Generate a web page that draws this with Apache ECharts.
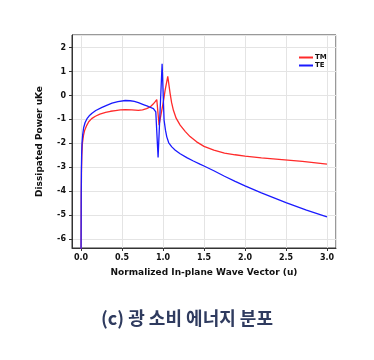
<!DOCTYPE html>
<html><head><meta charset="utf-8">
<script src="https://cdn.jsdelivr.net/npm/echarts@6/dist/echarts.min.js"></script>
<style>html,body{margin:0;padding:0;background:#fff}#c{width:374px;height:360px}</style>
</head><body><div id="c"></div>
<script>
const seriesNames = ['TM', 'TE'];
const tmU = [0,0.003,0.006,0.01,0.017,0.03,0.045,0.07,0.094,0.13,0.175,0.23,0.30,0.36,0.42,0.48,0.54,0.62,0.70,0.75,0.80,0.843,0.88,0.905,0.924,0.952,0.985,1.005,1.026,1.058,1.087,1.105,1.127,1.16,1.209,1.27,1.33,1.41,1.5,1.62,1.75,1.88,2.0,2.2,2.45,2.7,3.0];
const tmV = [-7,-4.2,-3.1,-2.5,-2.0,-1.67,-1.45,-1.25,-1.1,-0.97,-0.87,-0.78,-0.71,-0.66,-0.63,-0.6,-0.59,-0.6,-0.62,-0.6,-0.55,-0.48,-0.36,-0.26,-0.17,-1.24,-0.62,-0.25,0.22,0.8,0.08,-0.3,-0.62,-0.95,-1.24,-1.5,-1.72,-1.94,-2.13,-2.29,-2.41,-2.48,-2.54,-2.61,-2.68,-2.76,-2.87];
const teU = [0,0.002,0.005,0.008,0.012,0.02,0.032,0.05,0.073,0.1,0.134,0.18,0.256,0.32,0.378,0.45,0.54,0.6,0.65,0.70,0.76,0.82,0.883,0.912,0.94,0.989,1.013,1.03,1.046,1.07,1.107,1.15,1.209,1.29,1.37,1.45,1.5,1.62,1.75,1.88,2.0,2.2,2.5,2.75,3.0];
const teV = [-7,-4.2,-3.0,-2.4,-2.0,-1.65,-1.35,-1.13,-0.97,-0.85,-0.74,-0.63,-0.5,-0.4,-0.32,-0.26,-0.21,-0.22,-0.25,-0.3,-0.38,-0.46,-0.55,-0.69,-2.59,1.33,-1.03,-1.45,-1.73,-1.98,-2.15,-2.29,-2.44,-2.6,-2.74,-2.87,-2.95,-3.15,-3.38,-3.59,-3.78,-4.07,-4.48,-4.8,-5.08];
const xName = 'Normalized In-plane Wave Vector (u)';
const yName = 'Dissipated Power uKe';
const caption = '(c) 광 소비 에너지 분포';

const zip = (a, b) => a.map((v, i) => [v, b[i]]);
const font = 'DejaVu Sans';
const chart = echarts.init(document.getElementById('c'));
chart.setOption({
  animation: false,
  title: {
    text: caption, left: 'center', top: 304,
    textStyle: { fontFamily: 'Noto Sans CJK KR', fontWeight: 'bold', fontSize: 18, color: '#2f3b5f' }
  },
  legend: {
    data: seriesNames, orient: 'vertical', left: 294, top: 49, itemGap: 1,
    itemWidth: 14, itemHeight: 2, icon: 'rect',
    textStyle: { fontFamily: font, fontWeight: 'bold', fontSize: 7, color: '#111', padding: [0, 0, 0, -3] }
  },
  grid: { left: 72, right: 38, top: 35, bottom: 112, show: true, borderColor: '#333', borderWidth: 1, containLabel: false },
  xAxis: {
    type: 'value', min: -0.11, max: 3.11, splitNumber: 6,
    name: xName, nameLocation: 'middle', nameGap: 20,
    nameTextStyle: { fontFamily: font, fontWeight: 'bold', fontSize: 9, color: '#111' },
    axisLine: { show: true, onZero: false, lineStyle: { color: '#333' } },
    axisTick: { show: true, length: 3, lineStyle: { color: '#333' } },
    axisLabel: { showMinLabel: false, showMaxLabel: false, fontFamily: font, fontWeight: 'bold', fontSize: 8, color: '#111', margin: 6, formatter: v => v.toFixed(1) },
    splitLine: { show: true, lineStyle: { color: '#e4e4e4' } }
  },
  yAxis: {
    type: 'value', min: -6.38, max: 2.53, splitNumber: 8,
    name: yName, nameLocation: 'middle', nameGap: 28,
    nameTextStyle: { fontFamily: font, fontWeight: 'bold', fontSize: 9, color: '#111' },
    axisLine: { show: true, onZero: false, lineStyle: { color: '#333' } },
    axisTick: { show: true, length: 3, lineStyle: { color: '#333' } },
    axisLabel: { showMinLabel: false, showMaxLabel: false, fontFamily: font, fontWeight: 'bold', fontSize: 8, color: '#111', margin: 6 },
    splitLine: { show: true, lineStyle: { color: '#e4e4e4' } }
  },
  series: [
    { name: seriesNames[0], type: 'line', data: zip(tmU, tmV), showSymbol: false, clip: true, lineStyle: { color: '#ff2a2a', width: 1.3 }, itemStyle: { color: '#ff2a2a' } },
    { name: seriesNames[1], type: 'line', data: zip(teU, teV), showSymbol: false, clip: true, lineStyle: { color: '#1a1aff', width: 1.3 }, itemStyle: { color: '#1a1aff' } }
  ]
});
</script></body></html>
